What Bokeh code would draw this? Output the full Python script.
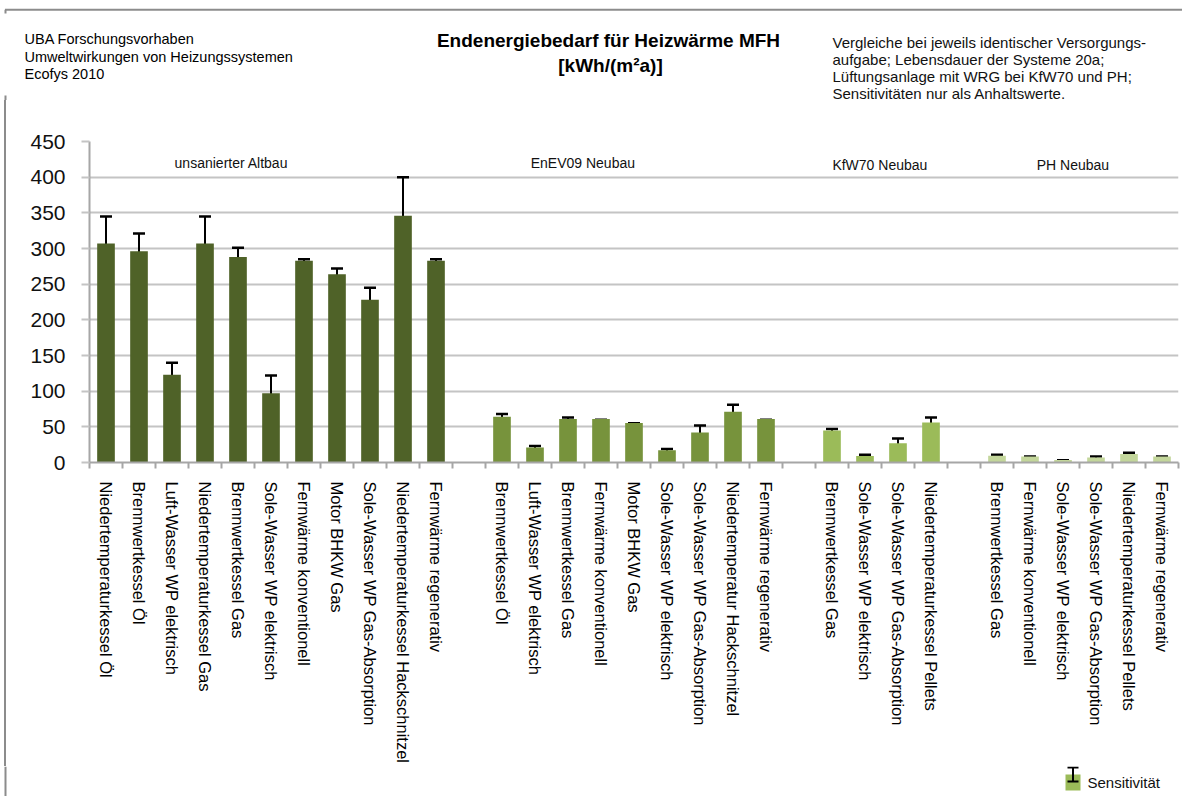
from bokeh.plotting import figure
from bokeh.layouts import column, row
from bokeh.models import (ColumnDataSource, Whisker, TeeHead, FixedTicker, Label, Range1d, Div)
from bokeh.embed import file_html
from bokeh.resources import INLINE

# ---------------- data ----------------
group_names = ["unsanierter Altbau", "EnEV09 Neubau", "KfW70 Neubau", "PH Neubau"]

altbau_labels = ["Niedertemperaturkessel Öl", "Brennwertkessel Öl", "Luft-Wasser WP elektrisch",
                 "Niedertemperaturkessel Gas", "Brennwertkessel Gas", "Sole-Wasser WP elektrisch",
                 "Fernwärme konventionell", "Motor BHKW Gas", "Sole-Wasser WP Gas-Absorption",
                 "Niedertemperaturkessel Hackschnitzel", "Fernwärme regenerativ"]
altbau_values = [307, 296, 123, 307, 288, 97, 283, 264, 228, 346, 283]
altbau_lower = [298, 269, 78, 298, 269, 78, 280, 257, 183, 324, 280]
altbau_upper = [345, 321, 140, 345, 301, 122, 285, 272, 245, 400, 285]

enev_labels = ["Brennwertkessel Öl", "Luft-Wasser WP elektrisch", "Brennwertkessel Gas",
               "Fernwärme konventionell", "Motor BHKW Gas", "Sole-Wasser WP elektrisch",
               "Sole-Wasser WP Gas-Absorption", "Niedertemperatur Hackschnitzel",
               "Fernwärme regenerativ"]
enev_values = [64, 21, 61, 61, 55.5, 17, 42, 71, 61]
enev_lower = [55, 15, 55, 57, 52, 13, 36, 64, 57]
enev_upper = [68, 23, 63, 60, 55, 19, 52, 81, 60]

kfw_labels = ["Brennwertkessel Gas", "Sole-Wasser WP elektrisch", "Sole-Wasser WP Gas-Absorption",
              "Niedertemperaturkessel Pellets"]
kfw_values = [45, 9, 27, 56]
kfw_lower = [40.5, 7, 20, 52]
kfw_upper = [47, 11, 33.5, 63]

ph_labels = ["Brennwertkessel Gas", "Fernwärme konventionell", "Sole-Wasser WP elektrisch",
             "Sole-Wasser WP Gas-Absorption", "Niedertemperaturkessel Pellets", "Fernwärme regenerativ"]
ph_values = [9.5, 8.5, 3.5, 7, 12, 8.5]
ph_lower = [7, 5.5, 1.5, 4, 9, 5.5]
ph_upper = [11, 8.5, 3, 8.5, 13.5, 8.5]

y_ticks = [0, 50, 100, 150, 200, 250, 300, 350, 400, 450]

title_lines = ["Endenergiebedarf für Heizwärme MFH", "[kWh/(m²a)]"]
source_lines = ["UBA Forschungsvorhaben", "Umweltwirkungen von Heizungssystemen", "Ecofys 2010"]
note_lines = ["Vergleiche bei jeweils identischer Versorgungs-",
              "aufgabe; Lebensdauer der Systeme 20a;",
              "Lüftungsanlage mit WRG bei KfW70 und PH;",
              "Sensitivitäten nur als Anhaltswerte."]
legend_label = "Sensitivität"

# ---------------- style / layout ----------------
group_colors = ["#4F6228", "#77933C", "#9BBB59", "#C3D69B"]
legend_color = "#9BBB59"
FONT = "Liberation Sans"
FRAME_GRAY = "#8C8C8C"

TOTAL_W, TOTAL_H = 1182, 796
HEAD_H = 100
FOOT_H = 30
STRIP_W = 6
MAIN_W, MAIN_H = TOTAL_W - STRIP_W, TOTAL_H - HEAD_H - FOOT_H

groups = [
    (altbau_labels, altbau_values, altbau_lower, altbau_upper),
    (enev_labels, enev_values, enev_lower, enev_upper),
    (kfw_labels, kfw_values, kfw_lower, kfw_upper),
    (ph_labels, ph_values, ph_lower, ph_upper),
]

# slot positions (x unit = half a category slot, so ticks are integers)
xs, tops, lows, ups, cols = [], [], [], [], []
overrides = {}
slot = 0
for gi, (labs, vals, lo, hi) in enumerate(groups):
    for lab, v, l, u in zip(labs, vals, lo, hi):
        c = 2 * slot + 1
        xs.append(c); tops.append(v); lows.append(l); ups.append(u); cols.append(group_colors[gi])
        overrides[c] = lab
        slot += 1
    if gi < len(groups) - 1:
        slot += 1  # empty slot between groups
n_slots = slot

src = ColumnDataSource(dict(x=xs, top=tops, lower=lows, upper=ups, color=cols))


def blank_fig(w, h):
    f = figure(width=w, height=h, output_backend="svg", toolbar_location=None,
               x_range=Range1d(0, w), y_range=Range1d(h, 0),
               x_axis_location=None, y_axis_location=None, min_border=0)
    f.outline_line_color = None
    f.grid.grid_line_color = None
    f.background_fill_color = "white"
    f.border_fill_color = "white"
    return f


# ---------------- header ----------------
head = blank_fig(TOTAL_W, HEAD_H)
head.segment(x0=[4.5, 5, 5], y0=[9.3, 9.3, 95], x1=[TOTAL_W, 5, 5], y1=[9.3, 13, HEAD_H],
             line_color=FRAME_GRAY, line_width=2)
for line, yb in zip(source_lines, [38.5, 56, 73.5]):
    head.add_layout(Label(x=24, y=yb, text=line, text_align="left", text_baseline="alphabetic",
                          text_font=FONT, text_font_size="14.5px", text_color="#000000"))
for line, (xc, yb) in zip(title_lines, [(608, 40), (610, 65)]):
    head.add_layout(Label(x=xc, y=yb, text=line, text_align="center", text_baseline="alphabetic",
                          text_font=FONT, text_font_size="19px", text_font_style="bold",
                          text_color="#000000"))
for line, yb in zip(note_lines, [41.7, 58.7, 75.7, 92.5]):
    head.add_layout(Label(x=832, y=yb, text=line, text_align="left", text_baseline="alphabetic",
                          text_font=FONT, text_font_size="15px", text_color="#111111"))

# ---------------- left frame strip ----------------
strip = Div(text="", width=STRIP_W, height=MAIN_H, margin=0,
            styles={"box-shadow": "inset -2px 0 0 0 " + FRAME_GRAY})

# ---------------- footer (legend) ----------------
foot = blank_fig(TOTAL_W, FOOT_H)
FY = HEAD_H + MAIN_H  # page y of footer top
foot.segment(x0=[5], y0=[0], x1=[5], y1=[FOOT_H], line_color=FRAME_GRAY, line_width=2)
foot.quad(left=[1065], right=[1080], top=[774 - FY], bottom=[790 - FY],
          fill_color=legend_color, line_color=None)
foot.segment(x0=[1072.5, 1067, 1067], y0=[767 - FY, 767 - FY, 781 - FY],
             x1=[1072.5, 1078, 1078], y1=[781 - FY, 767 - FY, 781 - FY],
             line_color="black", line_width=2)
foot.add_layout(Label(x=1087, y=782 - FY, text=legend_label, text_align="left",
                      text_baseline="middle", text_font=FONT, text_font_size="15px",
                      text_color="#111111"))

# ---------------- main chart ----------------
p = figure(width=MAIN_W, height=MAIN_H, output_backend="svg", toolbar_location=None,
           x_range=Range1d(0, 2 * n_slots), y_range=Range1d(0, 450),
           min_border_left=89 - STRIP_W, min_border_right=MAIN_W - (89 - STRIP_W) - 1089,
           min_border_top=141 - HEAD_H, min_border_bottom=MAIN_H - (141 - HEAD_H) - 326)
p.outline_line_color = None
p.background_fill_color = "white"
p.border_fill_color = "white"

p.vbar(x="x", top="top", width=1.07, bottom=0, source=src, fill_color="color", line_color=None)

w = Whisker(source=src, base="x", upper="upper", lower="lower",
            line_color="black", line_width=2,
            upper_head=TeeHead(size=12, line_color="black", line_width=2.5),
            lower_head=TeeHead(size=12, line_color="black", line_width=2.5))
p.add_layout(w)

# y axis
p.yaxis.ticker = FixedTicker(ticks=y_ticks)
p.yaxis.major_label_text_font = FONT
p.yaxis.major_label_text_font_size = "21px"
p.yaxis.major_label_text_color = "#111111"
p.yaxis.axis_line_color = "#A6A6A6"
p.yaxis.axis_line_width = 2
p.yaxis.major_tick_line_color = "#C4C4C4"
p.yaxis.major_tick_line_width = 2
p.yaxis.major_tick_out = 8
p.yaxis.major_tick_in = 0
p.yaxis.minor_tick_line_color = None
p.yaxis.major_label_standoff = 16

# x axis: labels at category centres, ticks at category boundaries
p.xaxis.ticker = FixedTicker(ticks=sorted(overrides.keys()),
                             minor_ticks=list(range(0, 2 * n_slots + 1, 2)))
p.xaxis.major_label_overrides = overrides
p.xaxis.major_label_orientation = "vertical"
p.xaxis.major_label_text_font = FONT
p.xaxis.major_label_text_font_size = "16.5px"
p.xaxis.major_label_text_color = "#000000"
p.xaxis.major_tick_line_color = None
p.xaxis.major_tick_out = 0
p.xaxis.major_tick_in = 0
p.xaxis.minor_tick_line_color = "#A6A6A6"
p.xaxis.minor_tick_line_width = 2
p.xaxis.minor_tick_out = 6
p.xaxis.minor_tick_in = 0
p.xaxis.axis_line_color = "#A6A6A6"
p.xaxis.axis_line_width = 2
p.xaxis.major_label_standoff = 13

p.xgrid.grid_line_color = None
p.ygrid.grid_line_color = "#C4C4C4"
p.ygrid.grid_line_width = 2

# group captions
group_label_slot = [4.3, 14.95, 23.95, 29.8]
group_label_y = [420, 420, 417, 417]
for name, sx, gy in zip(group_names, group_label_slot, group_label_y):
    p.add_layout(Label(x=2 * sx, y=gy, text=name, text_align="center", text_baseline="middle",
                       text_font=FONT, text_font_size="14px", text_color="#111111"))

layout = column(head, row(strip, p), foot)
open("out.html", "w").write(file_html(layout, INLINE))
